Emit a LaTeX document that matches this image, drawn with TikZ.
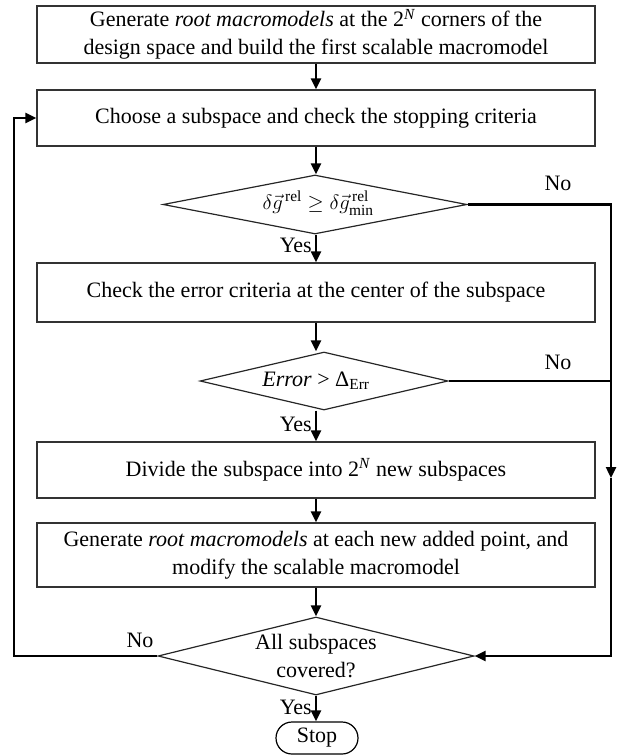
\documentclass[tikz,border=0pt]{standalone}
\usepackage{amsmath}
\usepackage{fontspec}
\setmainfont{Liberation Serif}
\usetikzlibrary{arrows.meta,shapes.geometric,calc}
\tikzset{
  procbox/.style={draw=black!80, line width=1.2pt, rectangle, inner sep=0pt, align=center,
    minimum width=558pt},
  decision/.style={draw=black!85, line width=1.2pt, diamond, inner sep=0pt},
  dtext/.style={align=center, inner sep=0pt},
  flow/.style={line width=2.4pt, -{Triangle[length=11pt,width=10pt]}},
  plainflow/.style={line width=2.4pt},
  lbl/.style={inner sep=0pt},
  stopbox/.style={draw=black, line width=1.2pt, rectangle, rounded corners=16pt,
    minimum width=82pt, minimum height=32pt, inner sep=0pt}
}
\begin{document}
\begin{tikzpicture}[x=1pt,y=-1pt, font=\fontsize{22}{28}\selectfont]
\useasboundingbox (0,0) rectangle (622,755);
% process boxes
\node[procbox, minimum height=57pt] (b1) at (316,34.5)
  {Generate \textit{root macromodels} at the 2\textsuperscript{\textit{N}} corners of the\\design space and build the first scalable macromodel};
\node[procbox, minimum height=56pt] (b2) at (316,118)
  {Choose a subspace and check the stopping criteria};
\node[decision, minimum width=304pt, minimum height=59pt] (d1) at (315,204.5) {};
\node[dtext] at (318,203) {$\delta\vec{g}^{\,\textrm{rel}}\geq\delta\vec{g}^{\,\textrm{rel}}_{\textrm{min}}$};
\node[procbox, minimum height=59pt] (b3) at (316,292.5)
  {Check the error criteria at the center of the subspace};
\node[decision, minimum width=248pt, minimum height=58pt] (d2) at (324,381) {};
\node[dtext] at (316,381) {\textit{Error} > Δ\textsubscript{Err}};
\node[procbox, minimum height=56pt] (b4) at (316,470)
  {Divide the subspace into 2\textsuperscript{\textit{N}} new subspaces};
\node[procbox, minimum height=64pt] (b5) at (316,555)
  {Generate \textit{root macromodels} at each new added point, and\\modify the scalable macromodel};
\node[decision, minimum width=316pt, minimum height=78pt] (d3) at (316,656) {};
\node[dtext] at (d3) {All subspaces\\covered?};
\node[stopbox] (stop) at (317,738) {Stop};
% coordinates for the loops
\coordinate (rdown) at (611,478);
\coordinate (lcorner) at (14,656);
% main flow
\draw[flow] (b1.south -| 316,0) -- (b2.north -| 316,0);
\draw[flow] (b2.south -| 316,0) -- (d1.north -| 316,0);
\draw[flow] (d1.south -| 316,0) -- (b3.north -| 316,0);
\draw[flow] (b3.south -| 316,0) -- (d2.north -| 316,0);
\draw[flow] (d2.south -| 316,0) -- (b4.north -| 316,0);
\draw[flow] (b4.south -| 316,0) -- (b5.north -| 316,0);
\draw[flow] (b5.south -| 316,0) -- (d3.north -| 316,0);
\draw[flow] (d3.south -| 316,0) -- (stop.north -| 316,0);
% no branches
\draw[flow] (d1.east) -| (rdown);
\draw[plainflow] (d2.east) -- (d2.east -| rdown);
\draw[flow] (rdown) |- (d3.east);
\draw[flow] (d3.west) -- (lcorner) |- (b2.west);
% labels
\node[lbl] at (558,183) {No};
\node[lbl] at (558,362) {No};
\node[lbl] at (140,640) {No};
\node[lbl, anchor=east] at (312,245) {Yes};
\node[lbl, anchor=east] at (312,424) {Yes};
\node[lbl, anchor=east] at (312,707) {Yes};
\end{tikzpicture}
\end{document}
